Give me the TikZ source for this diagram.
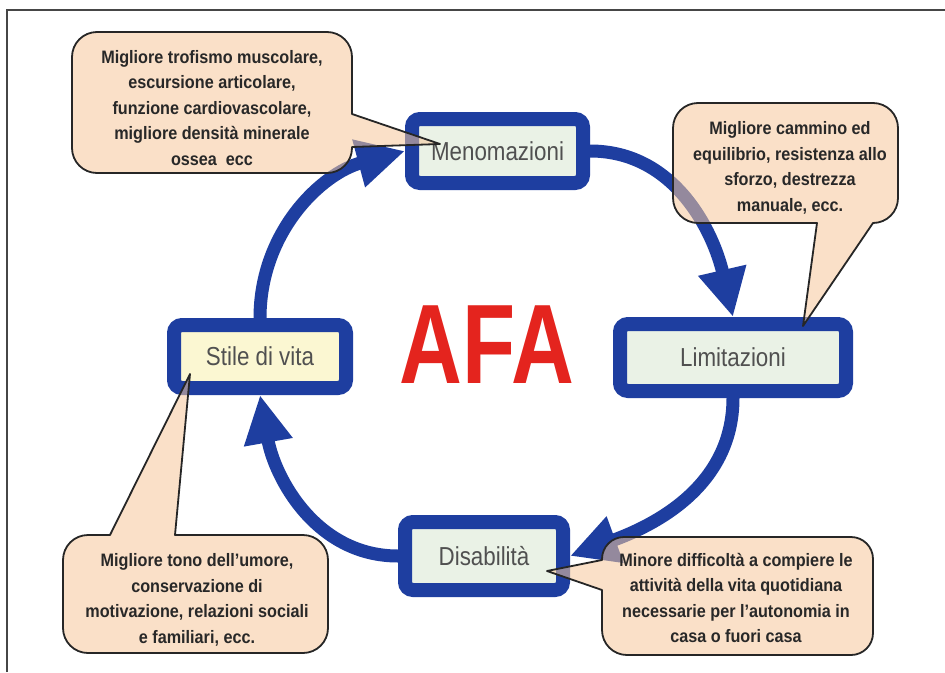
\documentclass[tikz,border=0pt]{standalone}
\usepackage{fontspec}
\usetikzlibrary{arrows.meta}
\newfontfamily\boxfont[FakeStretch=0.86]{Liberation Sans}
\newfontfamily\callfont[FakeStretch=0.9]{Liberation Sans}
\newfontfamily\afafont[FakeStretch=0.77]{Liberation Sans}
\definecolor{cblue}{RGB}{30,62,160}
\definecolor{boxgreen}{RGB}{234,242,230}
\definecolor{boxyellow}{RGB}{251,247,210}
\definecolor{peach}{RGB}{246,200,155}
\definecolor{afared}{RGB}{228,36,30}
\definecolor{txtgray}{RGB}{80,80,80}
\definecolor{calltxt}{RGB}{40,40,40}
\definecolor{framegray}{RGB}{70,70,70}
\begin{document}
\begin{tikzpicture}[x=1pt,y=1pt,
  bluebox/.style={draw=cblue, line width=14pt, rounded corners=8pt, inner sep=0pt,
    font=\boxfont\fontsize{26}{30}\selectfont, text=txtgray},
  cyclearrow/.style={draw=cblue, line width=13pt, -{Triangle[length=48pt,width=46pt]}},
  balloon/.style={draw=black!85, line width=1.8pt, fill=peach, fill opacity=0.55, line join=round},
  calltext/.style={font=\callfont\bfseries\fontsize{18}{25.5}\selectfont, text=calltxt,
    align=center, inner sep=0pt}]
\useasboundingbox (0,0) rectangle (945,-672);
\fill[white] (0,0) rectangle (945,-672);
% frame
\draw[framegray, line width=1.5pt] (7,-672) -- (7,-10) -- (945,-10);

% boxes
\node[bluebox, fill=boxgreen, minimum width=171pt, minimum height=64pt] (meno) at (497.5,-151) {Menomazioni};
\node[bluebox, fill=boxgreen, minimum width=226pt, minimum height=67pt] (limi) at (733,-357.5) {Limitazioni};
\node[bluebox, fill=boxgreen, minimum width=158pt, minimum height=68pt] (disa) at (484,-556) {Disabilità};
\node[bluebox, fill=boxyellow, minimum width=172pt, minimum height=63pt] (stile) at (260,-356.5) {Stile di vita};

% cycle arrows
\draw[cyclearrow] (meno.east) to[out=0,in=103] (limi.north);
\draw[cyclearrow] (limi.south) to[out=-90,in=20] (disa.east);
\draw[cyclearrow] (disa.west) to[out=180,in=-80] (stile.south);
\draw[cyclearrow] (stile.north) to[out=90,in=195] (meno.west);

% AFA
\node[font=\afafont\bfseries\fontsize{113}{113}\selectfont, text=afared, anchor=base, inner sep=0pt] (afa) at (487,-383) {AFA};

% balloons
\coordinate (p1) at (440,-144);
\coordinate (p2) at (803,-326);
\coordinate (p3) at (190,-374);
\coordinate (p4) at (547,-571);
\draw[balloon] (212,-32) [rounded corners=25pt] -- (352,-32) [sharp corners] -- (352,-114) -- (p1) -- (352,-147) [rounded corners=25pt] -- (352,-173) -- (72,-173) -- (72,-32) -- cycle;
\draw[balloon] (785,-103) [rounded corners=25pt] -- (898,-103) -- (898,-223) [sharp corners] -- (873,-223) -- (p2) -- (817,-223) [rounded corners=25pt] -- (673,-223) -- (673,-103) -- cycle;
\draw[balloon] (195,-653) [rounded corners=25pt] -- (63,-653) -- (63,-535) [sharp corners] -- (110,-535) -- (p3) -- (175,-535) [rounded corners=25pt] -- (328,-535) -- (328,-653) -- cycle;
\draw[balloon] (737,-655) [rounded corners=25pt] -- (602,-655) [sharp corners] -- (602,-590) -- (p4) -- (602,-560) [rounded corners=22pt] -- (602,-537) -- (873,-537) -- (873,-655) -- cycle;

% balloon texts
\node[calltext] (t1) at (212,-108) {Migliore trofismo muscolare,\\escursione articolare,\\funzione cardiovascolare,\\migliore densità minerale\\ossea~~ecc};
\node[calltext] (t2) at (790,-168) {Migliore cammino ed\\equilibrio, resistenza allo\\sforzo, destrezza\\manuale, ecc.};
\node[calltext] (t3) at (197,-600) {Migliore tono dell’umore,\\conservazione di\\motivazione, relazioni sociali\\e familiari, ecc.};
\node[calltext] (t4) at (736,-598) {Minore difficoltà a compiere le\\attività della vita quotidiana\\necessarie per l’autonomia in\\casa o fuori casa};
\end{tikzpicture}
\end{document}
